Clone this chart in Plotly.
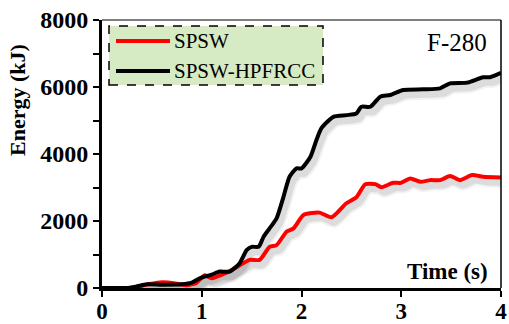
import plotly.graph_objects as go

# Energy dissipation histories, F-280 record
series_names = ["SPSW", "SPSW-HPFRCC"]
series_colors = ["#ff0000", "#000000"]

t_spsw = [0, 0.3, 0.45, 0.6, 0.75, 0.85, 0.95, 1.03, 1.1, 1.25, 1.35, 1.48, 1.58,
          1.68, 1.75, 1.85, 1.92, 2.02, 2.18, 2.3, 2.45, 2.55, 2.64, 2.74, 2.8,
          2.92, 3.0, 3.09, 3.19, 3.29, 3.39, 3.49, 3.59, 3.71, 3.82, 4.0]
e_spsw = [0, 10, 100, 170, 130, 80, 160, 380, 290, 460, 620, 840, 840,
          1230, 1280, 1680, 1780, 2180, 2250, 2110, 2530, 2710, 3100, 3100, 3010,
          3140, 3140, 3270, 3170, 3220, 3220, 3340, 3220, 3370, 3320, 3300]

t_hpfrcc = [0, 0.28, 0.45, 0.6, 0.8, 0.9, 0.98, 1.1, 1.18, 1.28, 1.38, 1.45, 1.5,
            1.57, 1.62, 1.68, 1.75, 1.82, 1.88, 1.95, 2.0, 2.09, 2.15, 2.2, 2.32,
            2.45, 2.55, 2.6, 2.69, 2.79, 2.89, 3.02, 3.22, 3.39, 3.49, 3.66, 3.82,
            3.89, 4.0]
e_hpfrcc = [0, 10, 110, 100, 110, 160, 290, 400, 490, 490, 740, 1130, 1230,
            1230, 1530, 1780, 2080, 2730, 3320, 3570, 3570, 3920, 4420, 4770, 5110,
            5160, 5210, 5410, 5410, 5710, 5760, 5910, 5930, 5960, 6110, 6130, 6290,
            6290, 6420]

x_ticks = [0, 1, 2, 3, 4]
y_ticks = [0, 2000, 4000, 6000, 8000]

SERIF = "Liberation Serif, Times New Roman, serif"
W, H = 509, 324
ML, MR, MT, MB = 102, 8, 20, 36

fig = go.Figure()

curves = [(t_spsw, e_spsw), (t_hpfrcc, e_hpfrcc)]

# soft drop shadow beneath each curve
shadow_dx, shadow_dy = 0.03, -150
for (t, e) in curves:
    for w, a in [(11, 0.05), (7, 0.09)]:
        fig.add_trace(go.Scatter(
            x=[v + shadow_dx for v in t], y=[v + shadow_dy for v in e],
            mode="lines", line=dict(color=f"rgba(0,0,0,{a})", width=w,
                                    shape="spline", smoothing=0.6),
            hoverinfo="skip", showlegend=False))

for (t, e), name, col in zip(curves, series_names, series_colors):
    fig.add_trace(go.Scatter(
        x=t, y=e, mode="lines", name=name,
        line=dict(color=col, width=4, shape="spline", smoothing=0.6),
        showlegend=False))

def px_to_paper(px, py):
    pw, ph = W - ML - MR, H - MT - MB
    return (px - ML) / pw, (H - MB - py) / ph

shapes = []
annotations = []

# thin frame on top and right
shapes.append(dict(type="line", xref="paper", yref="paper", x0=0, x1=1, y0=1, y1=1,
                   line=dict(color="black", width=1)))
shapes.append(dict(type="line", xref="paper", yref="paper", x0=1, x1=1, y0=0, y1=1,
                   line=dict(color="black", width=1.5)))

# legend box
bx0, by0 = px_to_paper(109, 85)
bx1, by1 = px_to_paper(323, 26)
shapes.append(dict(type="rect", xref="paper", yref="paper", x0=bx0, x1=bx1, y0=by0, y1=by1,
                   fillcolor="rgb(214,234,196)", line=dict(color="black", width=1.5, dash="dash"),
                   layer="above"))
for i, (name, col) in enumerate(zip(series_names, series_colors)):
    lx0, ly = px_to_paper(116, 41 + 30 * i)
    lx1, _ = px_to_paper(170, 41 + 30 * i)
    shapes.append(dict(type="line", xref="paper", yref="paper", x0=lx0, x1=lx1, y0=ly, y1=ly,
                       line=dict(color=col, width=4), layer="above"))
    tx, _ = px_to_paper(172, 0)
    annotations.append(dict(xref="paper", yref="paper", x=tx, y=ly, text=name,
                            xanchor="left", yanchor="middle", showarrow=False,
                            font=dict(family=SERIF, size=21, color="black")))

fx, fy = px_to_paper(489, 43)
annotations.append(dict(xref="paper", yref="paper", x=fx, y=fy, text="F-280",
                        xanchor="right", yanchor="middle", showarrow=False,
                        font=dict(family=SERIF, size=25, color="black")))

tx, ty = px_to_paper(490, 271)
annotations.append(dict(xref="paper", yref="paper", x=tx, y=ty, text="<b>Time (s)</b>",
                        xanchor="right", yanchor="middle", showarrow=False,
                        font=dict(family=SERIF, size=23, color="black")))

ex, ey = px_to_paper(17, 100)
annotations.append(dict(xref="paper", yref="paper", x=ex, y=ey, text="<b>Energy (kJ)</b>",
                        xanchor="center", yanchor="middle", showarrow=False, textangle=-90,
                        font=dict(family=SERIF, size=22, color="black")))

fig.update_layout(
    width=W, height=H,
    margin=dict(l=ML, r=MR, t=MT, b=MB, autoexpand=False),
    paper_bgcolor="white", plot_bgcolor="white",
    shapes=shapes, annotations=annotations,
    showlegend=False,
    xaxis=dict(range=[0, 4], tickvals=x_ticks, ticktext=[f"<b>{v}</b>" for v in x_ticks],
               automargin=False, ticklabelstandoff=-6,
               showgrid=False, zeroline=False, showline=True, linecolor="black", linewidth=3,
               ticks="outside", ticklen=6, tickwidth=2, tickcolor="black",
               tickfont=dict(family=SERIF, size=23, color="black")),
    yaxis=dict(range=[0, 8000], tickvals=y_ticks, ticktext=[f"<b>{v}</b>" for v in y_ticks],
               automargin=False,
               showgrid=False, zeroline=False, showline=True, linecolor="black", linewidth=3,
               ticks="outside", ticklen=6, tickwidth=2, tickcolor="black",
               minor=dict(dtick=1000, ticks="outside", ticklen=6, tickwidth=2, tickcolor="black"),
               tickfont=dict(family=SERIF, size=24, color="black")),
)

fig.write_html("out.html")
